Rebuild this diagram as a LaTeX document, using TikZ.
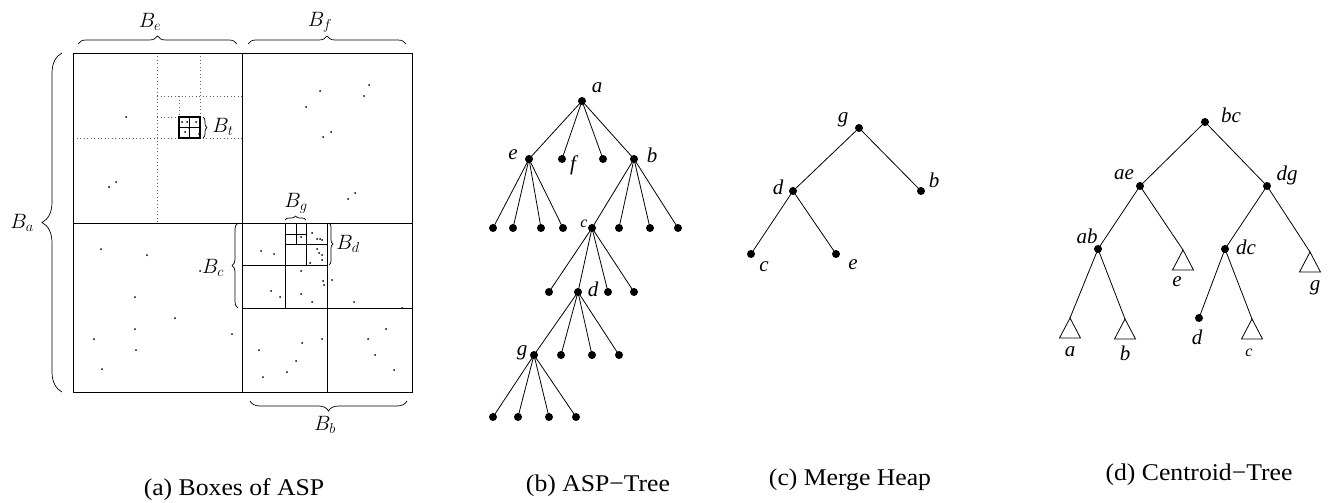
\documentclass[tikz,border=0pt]{standalone}
\usepackage{fontspec}
\setmainfont{Liberation Serif}
\usetikzlibrary{decorations.pathreplacing}
\begin{document}
\begin{tikzpicture}[x=1pt,y=-1pt,
  dot/.style={circle,fill,inner sep=0pt,minimum size=8pt},
  edge/.style={line width=0.8pt},
  boxline/.style={line width=0.9pt},
  dotline/.style={line width=0.8pt,black!60,dash pattern=on 0.9pt off 2.6pt},
  brc/.style={decorate,decoration={brace,amplitude=#1},line width=0.7pt},
  mlbl/.style={font=\fontsize{22}{26}\selectfont,inner sep=0pt},
  lbl/.style={font=\fontsize{21}{25}\selectfont\itshape,inner sep=0pt},
  slbl/.style={font=\fontsize{16}{19}\selectfont\itshape,inner sep=0pt},
  captxt/.style={font=\fontsize{24}{28}\selectfont,inner sep=0pt},
  tri/.style={line width=0.8pt}
]
\useasboundingbox (0,0) rectangle (1333,503);

% ---------------- (a) Boxes of ASP ----------------
% dotted subdivisions in B_e
\draw[dotline] (157,53) -- (157,223);
\draw[dotline] (73,138) -- (242,138);
\draw[dotline] (200,53) -- (200,117);
\draw[dotline] (157,96) -- (242,96);
\draw[dotline] (179,96) -- (179,117);
\draw[dotline] (157,117) -- (179,117);
% B_t box
\draw[line width=1.2pt] (179,117) rectangle (200,138);
\draw[line width=1.1pt] (189.5,117) -- (189.5,138) (179,127.5) -- (200,127.5);
% outer box
\draw[boxline] (73,53) rectangle (412,392);
\draw[boxline] (242,53) -- (242,392) (73,223) -- (412,223);
% bottom-right subdivisions
\draw[boxline] (327,223) -- (327,392) (242,308) -- (412,308);
\draw[boxline] (285,223) -- (285,308) (242,265) -- (327,265);
\draw[boxline] (306,223) -- (306,265) (285,244) -- (327,244);
\draw[boxline] (296,223) -- (296,244) (285,234) -- (306,234);
% points
\foreach \p in {(126,117),(116,182),(109,187),
  (320,91),(369,85),(364,96),(306,107),(323,137),(331,132),(355,193),(348,199),
  (101,249),(147,255),(135,297),(175,318),(135,329),(94,339),(136,350),(232,334),(102,369),(200,271),
  (261,251),(274,254),(301,237),(312,233),(317,239),(320,239),(322,240),(317,249),(319,253),(322,255),(310,263),(322,260),
  (301,271),(323,281),(324,285),(332,280),(271,291),(280,297),(301,294),(312,302),(354,302),(402,308),
  (259,350),(302,343),(322,339),(296,361),(287,372),(263,377),
  (386,329),(368,339),(375,355),(394,370),
  (182,122),(187,122),(196,122),(189,128),(185,132),(199,134)}
  \fill \p circle (1.0);
% braces
\draw[brc=8pt] (78,44) -- (237,44);
\draw[brc=8pt] (248,44) -- (406,44);
\draw[brc=20pt] (62,392) -- (62,53);
\draw[brc=10pt] (407,401) -- (250,401);
\draw[brc=6pt] (238,308) -- (238,223);
\draw[brc=4pt] (203,117) -- (203,138);
\draw[brc=4pt] (329,223) -- (329,265);
\draw[brc=4pt] (285,220) -- (306,220);
\node[mlbl] (lBe) at (150,22) {$B_e$};
\node[mlbl] (lBf) at (320,22) {$B_f$};
\node[mlbl] (lBa) at (22,223) {$B_a$};
\node[mlbl] (lBt) at (223,127) {$B_t$};
\node[mlbl] (lBg) at (296,203) {$B_g$};
\node[mlbl] (lBd) at (348,244) {$B_d$};
\node[mlbl] (lBc) at (213,268) {$B_c$};
\node[mlbl] (lBb) at (325,425) {$B_b$};

% ---------------- (b) ASP-Tree ----------------
\node[dot] (ta) at (582,101) {};
\node[dot] (te) at (529,159) {};
\node[dot] (tf) at (562,159) {};
\node[dot] (tx) at (603,159) {};
\node[dot] (tb) at (634,159) {};
\foreach \x [count=\i] in {493,513,541,563} \node[dot] (te\i) at (\x,228) {};
\node[dot] (tc) at (592,228) {};
\foreach \x [count=\i] in {619,650,678} \node[dot] (tb\i) at (\x,228) {};
\node[dot] (tc1) at (549,292) {};
\node[dot] (td) at (578,292) {};
\node[dot] (tc2) at (608,292) {};
\node[dot] (tc3) at (634,292) {};
\node[dot] (tg) at (534,355) {};
\foreach \x [count=\i] in {561,592,619} \node[dot] (td\i) at (\x,355) {};
\foreach \x [count=\i] in {493,518,549,576} \node[dot] (tg\i) at (\x,417) {};
\foreach \n in {te,tf,tx,tb} \draw[edge] (ta.center) -- (\n.center);
\foreach \i in {1,...,4} \draw[edge] (te.center) -- (te\i.center);
\draw[edge] (tb.center) -- (tc.center);
\foreach \i in {1,...,3} \draw[edge] (tb.center) -- (tb\i.center);
\foreach \n in {tc1,td,tc2,tc3} \draw[edge] (tc.center) -- (\n.center);
\draw[edge] (td.center) -- (tg.center);
\foreach \i in {1,...,3} \draw[edge] (td.center) -- (td\i.center);
\foreach \i in {1,...,4} \draw[edge] (tg.center) -- (tg\i.center);
\node[lbl] (la) at (597,88) {a};
\node[lbl] (le) at (513,155) {e};
\node[lbl] (lf) at (573,165) {f};
\node[lbl] (lb) at (652,155) {b};
\node[slbl] (lc) at (584,224) {c};
\node[lbl] (ld) at (593,289) {d};
\node[lbl] (lg) at (522,353) {g};

% ---------------- (c) Merge Heap ----------------
\node[dot] (mg) at (859,128) {};
\node[dot] (md) at (793,191) {};
\node[dot] (mb) at (921,191) {};
\node[dot] (mc) at (751,254) {};
\node[dot] (me) at (836,254) {};
\draw[edge] (mg.center) -- (md.center);
\draw[edge] (mg.center) -- (mb.center);
\draw[edge] (md.center) -- (mc.center);
\draw[edge] (md.center) -- (me.center);
\node[lbl] (lmg) at (843,120) {g};
\node[lbl] (lmd) at (778,187) {d};
\node[lbl] (lmb) at (934,180) {b};
\node[lbl] (lmc) at (764,267) {c};
\node[lbl] (lme) at (853,265) {e};

% ---------------- (d) Centroid-Tree ----------------
\node[dot] (cbc) at (1205,122) {};
\node[dot] (cae) at (1140,186) {};
\node[dot] (cdg) at (1267,186) {};
\node[dot] (cab) at (1098,249) {};
\node[dot] (cdc) at (1225,249) {};
\node[dot] (cd) at (1199,318) {};
\coordinate (cte) at (1183,250);
\coordinate (ctg) at (1310,252);
\coordinate (cta) at (1070,318);
\coordinate (ctb) at (1125,319);
\coordinate (ctc) at (1252,319);
\foreach \t in {cte,ctg,cta,ctb,ctc}
  \draw[tri] (\t) -- ++(-10.5,20) -- ++(21,0) -- cycle;
\draw[edge] (cbc.center) -- (cae.center);
\draw[edge] (cbc.center) -- (cdg.center);
\draw[edge] (cae.center) -- (cab.center);
\draw[edge] (cae.center) -- (cte);
\draw[edge] (cdg.center) -- (cdc.center);
\draw[edge] (cdg.center) -- (ctg);
\draw[edge] (cab.center) -- (cta);
\draw[edge] (cab.center) -- (ctb);
\draw[edge] (cdc.center) -- (cd.center);
\draw[edge] (cdc.center) -- (ctc);
\node[lbl] (lbc) at (1231,115) {bc};
\node[lbl] (lae) at (1124,175) {ae};
\node[lbl] (ldg) at (1287,175) {dg};
\node[lbl] (lab) at (1087,236) {ab};
\node[lbl] (ldc) at (1246,247) {dc};
\node[lbl] (lte) at (1177,282) {e};
\node[lbl] (ltg) at (1315,288) {g};
\node[lbl] (lta) at (1070,352) {a};
\node[lbl] (ltb) at (1125,353) {b};
\node[lbl] (lcd) at (1197,337) {d};
\node[slbl] (ltc) at (1249,353) {c};

% ---------------- captions ----------------
\node[captxt] (capa) at (234,490) {\scalebox{1.07}[1]{(a) Boxes of ASP}};
\node[captxt] (capb) at (598,486) {\scalebox{1.07}[1]{(b) ASP−Tree}};
\node[captxt] (capc) at (850,480) {\scalebox{1.07}[1]{(c) Merge Heap}};
\node[captxt] (capd) at (1199,475) {\scalebox{1.07}[1]{(d) Centroid−Tree}};
\end{tikzpicture}
\end{document}
